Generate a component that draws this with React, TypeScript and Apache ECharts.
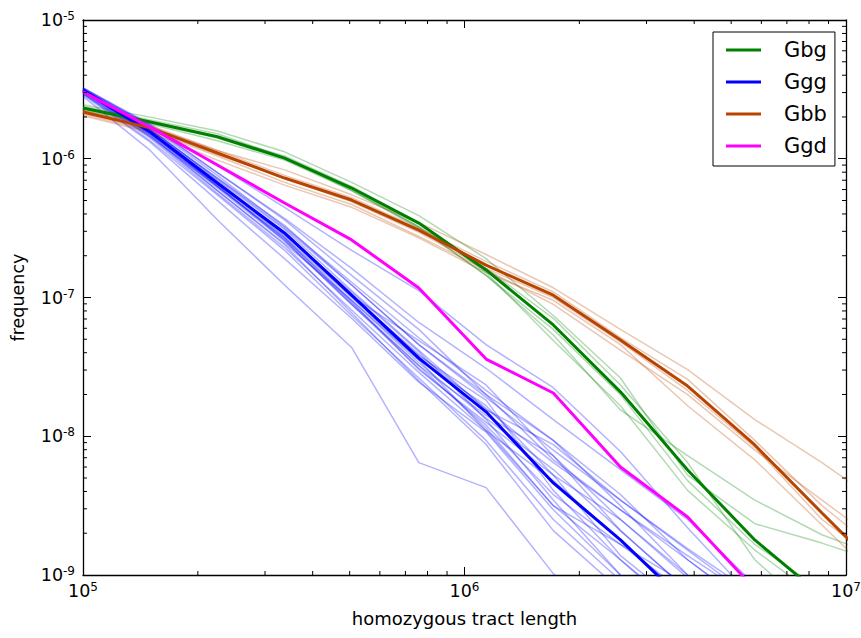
import React, { useEffect, useRef } from "react";
import * as echarts from "echarts";

// x positions of the bins (homozygous tract length)
const tractLength = [1.0e5, 1.5e5, 2.25e5, 3.375e5, 5.06e5, 7.59e5, 1.139e6, 1.709e6, 2.563e6, 3.844e6, 5.767e6, 8.65e6, 1.2975e7];

// main (population) curves, frequency
const gbg = [2.32e-6, 1.84e-6, 1.44e-6, 1.01e-6, 6.15e-7, 3.44e-7, 1.58e-7, 6.34e-8, 2.09e-8, 5.71e-9, 1.79e-9, 7.06e-10];
const ggg = [3.13e-6, 1.56e-6, 6.68e-7, 2.92e-7, 1.04e-7, 3.66e-8, 1.50e-8, 4.61e-9, 1.79e-9, 6.18e-10];
const gbb = [2.17e-6, 1.67e-6, 1.10e-6, 7.26e-7, 5.04e-7, 3.06e-7, 1.71e-7, 1.04e-7, 4.94e-8, 2.30e-8, 8.65e-9, 2.80e-9, 9.20e-10];
const ggd = [3.03e-6, 1.69e-6, 9.02e-7, 4.80e-7, 2.60e-7, 1.17e-7, 3.60e-8, 2.05e-8, 6.00e-9, 2.62e-9, 7.93e-10];

// individual samples, log10(frequency)
const gggSamplesLog10 = [
  [-5.55, -5.94, -6.44, -6.91, -7.36, -8.19, -8.37, -8.99, -9.47],
  [-5.49, -5.75, -6.05, -6.35, -6.66, -6.95, -7.34, -7.65, -8.11, -8.66, -9.18],
  [-5.50, -5.76, -6.10, -6.43, -6.79, -7.18, -7.51, -7.88, -8.24, -8.60, -9.07],
  [-5.51, -5.79, -6.14, -6.50, -6.91, -7.34, -7.70, -8.17, -8.53, -8.89, -9.25],
  [-5.50, -5.81, -6.20, -6.57, -7.02, -7.47, -7.87, -8.24, -8.68, -9.11],
  [-5.52, -5.83, -6.21, -6.59, -7.05, -7.51, -7.92, -8.42, -8.78, -9.14],
  [-5.50, -5.78, -6.15, -6.51, -6.95, -7.38, -7.81, -8.06, -8.46, -8.82, -9.18],
  [-5.53, -5.85, -6.25, -6.64, -7.09, -7.54, -7.96, -8.50, -8.89, -9.29],
  [-5.50, -5.80, -6.17, -6.56, -7.00, -7.45, -7.78, -8.28, -8.60, -9.02],
  [-5.51, -5.82, -6.19, -6.55, -6.96, -7.39, -7.88, -8.46, -9.00, -9.32],
  [-5.53, -5.87, -6.26, -6.66, -7.13, -7.58, -8.03, -8.60, -9.04],
  [-5.49, -5.77, -6.12, -6.49, -6.89, -7.29, -7.67, -8.03, -8.42, -8.89, -9.25],
  [-5.52, -5.81, -6.18, -6.53, -6.98, -7.42, -7.74, -8.39, -8.89, -9.32],
  [-5.50, -5.81, -6.19, -6.59, -7.05, -7.49, -7.85, -8.14, -8.68, -9.11],
  [-5.53, -5.84, -6.23, -6.62, -7.11, -7.60, -8.06, -8.68, -9.11],
  [-5.50, -5.79, -6.16, -6.54, -6.99, -7.41, -7.80, -8.19, -8.53, -8.86, -9.18],
  [-5.51, -5.83, -6.23, -6.61, -7.02, -7.45, -7.96, -8.32, -8.75, -9.18],
  [-5.50, -5.79, -6.14, -6.48, -6.91, -7.34, -7.72, -8.10, -8.46, -8.81, -9.14],
  [-5.52, -5.84, -6.20, -6.57, -7.03, -7.52, -7.90, -8.28, -8.86, -9.25],
  [-5.54, -5.88, -6.30, -6.72, -7.15, -7.61, -7.97, -8.53, -9.00],
  [-5.50, -5.81, -6.18, -6.54, -6.99, -7.31, -7.63, -8.14, -8.60, -9.00],
  [-5.49, -5.76, -6.10, -6.44, -6.84, -7.23, -7.70, -8.03, -8.50, -9.00],
  [-5.51, -5.82, -6.20, -6.58, -7.04, -7.49, -7.94, -8.50, -8.78, -9.07],
];
const gbgSamplesLog10 = [
  [-5.61, -5.70, -5.80, -5.95, -6.17, -6.41, -6.72, -7.13, -7.58, -8.28, -8.63, -8.77, -8.93],
  [-5.65, -5.75, -5.87, -6.01, -6.23, -6.49, -6.84, -7.27, -7.81, -8.14, -8.46, -8.71, -8.89],
  [-5.63, -5.73, -5.84, -5.98, -6.20, -6.46, -6.82, -7.31, -7.78, -8.39, -8.82, -9.18],
  [-5.64, -5.74, -5.85, -6.00, -6.22, -6.49, -6.79, -7.15, -7.63, -8.19, -8.89, -9.32],
  [-5.62, -5.72, -5.82, -5.99, -6.23, -6.50, -6.84, -7.23, -7.70, -8.32, -8.78, -9.11],
];
const gbbSamplesLog10 = [
  [-5.65, -5.76, -5.94, -6.08, -6.26, -6.46, -6.69, -6.93, -7.23, -7.52, -7.88, -8.19, -8.53],
  [-5.68, -5.80, -5.98, -6.17, -6.33, -6.56, -6.80, -7.05, -7.38, -7.70, -8.10, -8.46, -8.82],
  [-5.69, -5.81, -6.01, -6.19, -6.35, -6.57, -6.82, -7.02, -7.34, -7.78, -8.17, -8.64, -9.11],
  [-5.66, -5.77, -5.94, -6.12, -6.28, -6.50, -6.74, -6.96, -7.29, -7.59, -8.03, -8.50, -8.89],
  [-5.67, -5.79, -5.97, -6.14, -6.31, -6.53, -6.79, -7.00, -7.32, -7.67, -8.08, -8.60, -8.96],
];

const seriesNames = ["Gbg", "Ggg", "Gbb", "Ggd"];
const xMinorTicks = [2e5, 3e5, 4e5, 5e5, 6e5, 7e5, 8e5, 9e5, 2e6, 3e6, 4e6, 5e6, 6e6, 7e6, 8e6, 9e6];
const yMinorTicks = [
  2e-9, 3e-9, 4e-9, 5e-9, 6e-9, 7e-9, 8e-9, 9e-9,
  2e-8, 3e-8, 4e-8, 5e-8, 6e-8, 7e-8, 8e-8, 9e-8,
  2e-7, 3e-7, 4e-7, 5e-7, 6e-7, 7e-7, 8e-7, 9e-7,
  2e-6, 3e-6, 4e-6, 5e-6, 6e-6, 7e-6, 8e-6, 9e-6,
];
const X_MIN = 1e5, X_MAX = 1e7, Y_MIN = 1e-9, Y_MAX = 1e-5;

const COLORS: Record<string, string> = { Gbg: "#008000", Ggg: "#0000ff", Gbb: "#b84400", Ggd: "#ff00ff" };
const FONT = "DejaVu Sans";

const toPairs = (vals: number[]) => vals.map((v, i) => [tractLength[i], v]);
const fromLog = (vals: number[]) => vals.map((e, i) => [tractLength[i], Math.pow(10, e)]);

const powLabel = (v: number) => `{b|10}{s|${Math.round(Math.log10(v))}}`;
const richLabel = {
  b: { fontSize: 17.5, lineHeight: 20, fontFamily: FONT, color: "#000" },
  s: { fontSize: 12, lineHeight: 12, verticalAlign: "top", fontFamily: FONT, color: "#000" },
};

const axisBase = {
  type: "log",
  logBase: 10,
  axisLine: { show: true, onZero: false, lineStyle: { color: "#000", width: 1.3 } },
  axisTick: { show: true, inside: true, length: 8, lineStyle: { color: "#000", width: 1 } },
  splitLine: { show: false },
  minorTick: { show: false },
};

function thinSeries(name: string, samples: number[][]) {
  return samples.map((s, i) => ({
    type: "line",
    name: `${name} sample ${i + 1}`,
    data: fromLog(s),
    symbol: "none",
    showSymbol: false,
    silent: true,
    z: 2,
    lineStyle: { color: COLORS[name], width: 1.5, opacity: 0.3 },
    itemStyle: { color: COLORS[name] },
  }));
}

function mainSeries(name: string, vals: number[]) {
  return {
    type: "line",
    name,
    data: toPairs(vals),
    symbol: "none",
    showSymbol: false,
    silent: true,
    z: 3,
    color: COLORS[name],
    lineStyle: { color: COLORS[name], width: 3 },
    itemStyle: { color: COLORS[name] },
  };
}

const tickLine = (x1: number, y1: number, x2: number, y2: number) => ({
  type: "line",
  shape: { x1, y1, x2, y2 },
  style: { stroke: "#000", lineWidth: 1 },
});

const xMinorSeries = {
  type: "custom",
  silent: true,
  clip: false,
  z: 10,
  data: xMinorTicks.map((v) => [v, Y_MIN]),
  renderItem: (_params: any, api: any) => {
    const v = api.value(0);
    const b = api.coord([v, Y_MIN]);
    const t = api.coord([v, Y_MAX]);
    return {
      type: "group",
      children: [tickLine(b[0], b[1], b[0], b[1] - 4), tickLine(t[0], t[1], t[0], t[1] + 4)],
    };
  },
};

const yMinorSeries = {
  type: "custom",
  silent: true,
  clip: false,
  z: 10,
  data: yMinorTicks.map((v) => [X_MIN, v]),
  renderItem: (_params: any, api: any) => {
    const v = api.value(1);
    const l = api.coord([X_MIN, v]);
    const r = api.coord([X_MAX, v]);
    return {
      type: "group",
      children: [tickLine(l[0], l[1], l[0] + 4, l[1]), tickLine(r[0], r[1], r[0] - 4, r[1])],
    };
  },
};

const option: any = {
  animation: false,
  backgroundColor: "#fff",
  textStyle: { fontFamily: FONT },
  grid: { left: 83, top: 20, right: 15, bottom: 63, containLabel: false, outerBoundsMode: "none" },
  legend: {
    data: seriesNames,
    orient: "vertical",
    left: 713,
    top: 32,
    padding: [6, 8, 8, 13],
    itemGap: 8,
    itemWidth: 35,
    itemHeight: 3,
    icon: "rect",
    borderColor: "#000",
    borderWidth: 1,
    borderRadius: 0,
    backgroundColor: "#fff",
    selectedMode: false,
    textStyle: { fontSize: 21, lineHeight: 24, color: "#000", fontFamily: FONT, padding: [0, 0, 0, 18] },
  },
  xAxis: [
    {
      ...axisBase,
      position: "bottom",
      min: X_MIN,
      max: X_MAX,
      name: "homozygous tract length",
      nameLocation: "middle",
      nameGap: 34,
      nameTextStyle: { fontSize: 18, color: "#000", fontFamily: FONT },
      axisLabel: { show: true, margin: 6, formatter: powLabel, rich: richLabel, showMinLabel: true, showMaxLabel: true },
    },
    {
      ...axisBase,
      position: "top",
      min: X_MIN,
      max: X_MAX,
      axisLabel: { show: false },
    },
  ],
  yAxis: [
    {
      ...axisBase,
      position: "left",
      min: Y_MIN,
      max: Y_MAX,
      name: "frequency",
      nameLocation: "middle",
      nameGap: 56,
      nameTextStyle: { fontSize: 17.5, color: "#000", fontFamily: FONT },
      axisLabel: { show: true, margin: 8, formatter: powLabel, rich: richLabel, showMinLabel: true, showMaxLabel: true },
    },
    {
      ...axisBase,
      position: "right",
      min: Y_MIN,
      max: Y_MAX,
      axisLabel: { show: false },
    },
  ],
  series: [
    ...thinSeries("Gbg", gbgSamplesLog10),
    ...thinSeries("Ggg", gggSamplesLog10),
    ...thinSeries("Gbb", gbbSamplesLog10),
    mainSeries("Gbg", gbg),
    mainSeries("Ggg", ggg),
    mainSeries("Gbb", gbb),
    mainSeries("Ggd", ggd),
    xMinorSeries,
    yMinorSeries,
  ],
};

export default function App() {
  const ref = useRef<HTMLDivElement>(null);
  useEffect(() => {
    const chart = echarts.init(ref.current!, null, { renderer: "svg" });
    chart.setOption(option);
    return () => chart.dispose();
  }, []);
  return (
    <div
      ref={ref}
      style={{ position: "fixed", left: 0, top: 0, width: 861, height: 638, background: "#fff" }}
    />
  );
}
